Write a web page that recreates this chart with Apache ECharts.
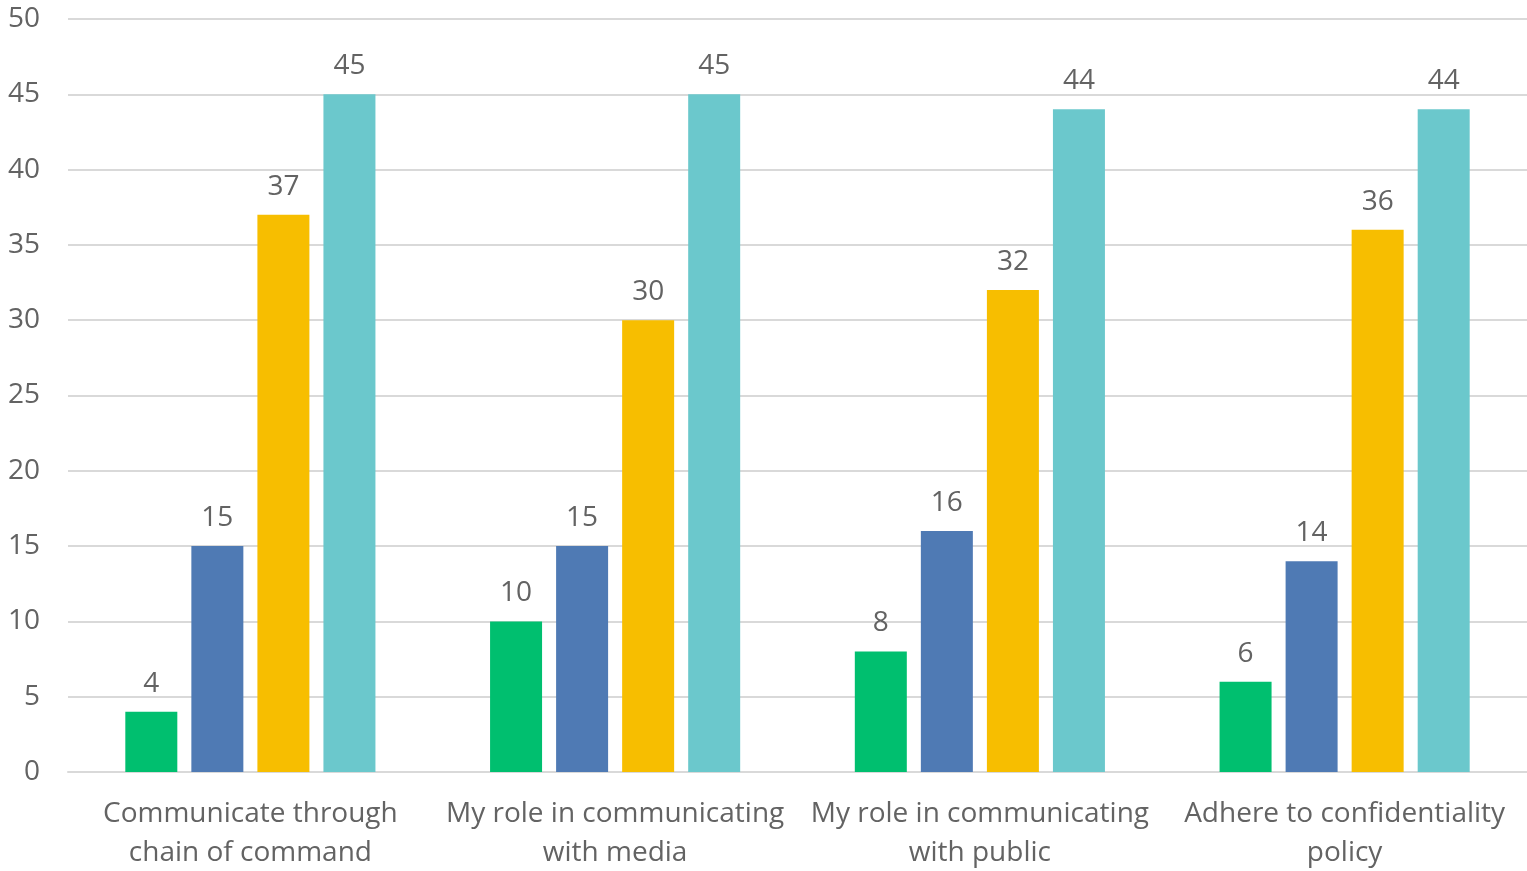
<!DOCTYPE html>
<html><head><meta charset="utf-8">
<script src="https://cdn.jsdelivr.net/npm/echarts@6/dist/echarts.min.js"></script>
<style>html,body{margin:0;padding:0;background:#fff}#c{width:1527px;height:871px}</style>
</head><body><div id="c"></div>
<script>
const categories = ["Communicate through\nchain of command", "My role in communicating\nwith media", "My role in communicating\nwith public", "Adhere to confidentiality\npolicy"];
const seriesA = [4, 10, 8, 6];
const seriesB = [15, 15, 16, 14];
const seriesC = [37, 30, 32, 36];
const seriesD = [45, 45, 44, 44];
const colors = ["#00BF6F", "#4F7AB4", "#F7BE00", "#6BC8CC"];
const font = "'Open Sans', sans-serif";
const txt = "#636363";
function mk(name, data, color) {
  return {
    name, type: 'bar', data,
    itemStyle: { color },
    barWidth: 52,
    barGap: '27%',
    label: { show: true, position: 'top', distance: 14, fontFamily: font, fontSize: 28, color: txt }
  };
}
const chart = echarts.init(document.getElementById('c'));
chart.setOption({
  animation: false,
  grid: { left: 68, right: 0, top: 19, bottom: 99, containLabel: false, outerBoundsMode: 'none' },
  xAxis: {
    type: 'category', data: categories,
    axisLine: { lineStyle: { color: '#d9d9d9', width: 2 } },
    axisTick: { show: false },
    axisLabel: { fontFamily: font, fontSize: 28, color: txt, lineHeight: 39, margin: 23, interval: 0 }
  },
  yAxis: {
    type: 'value', min: 0, max: 50, interval: 5,
    axisLine: { show: false }, axisTick: { show: false },
    splitLine: { lineStyle: { color: '#d9d9d9', width: 2 } },
    axisLabel: { fontFamily: font, fontSize: 28, color: txt, margin: 28 }
  },
  series: [mk('A', seriesA, colors[0]), mk('B', seriesB, colors[1]), mk('C', seriesC, colors[2]), mk('D', seriesD, colors[3])]
});
</script></body></html>
